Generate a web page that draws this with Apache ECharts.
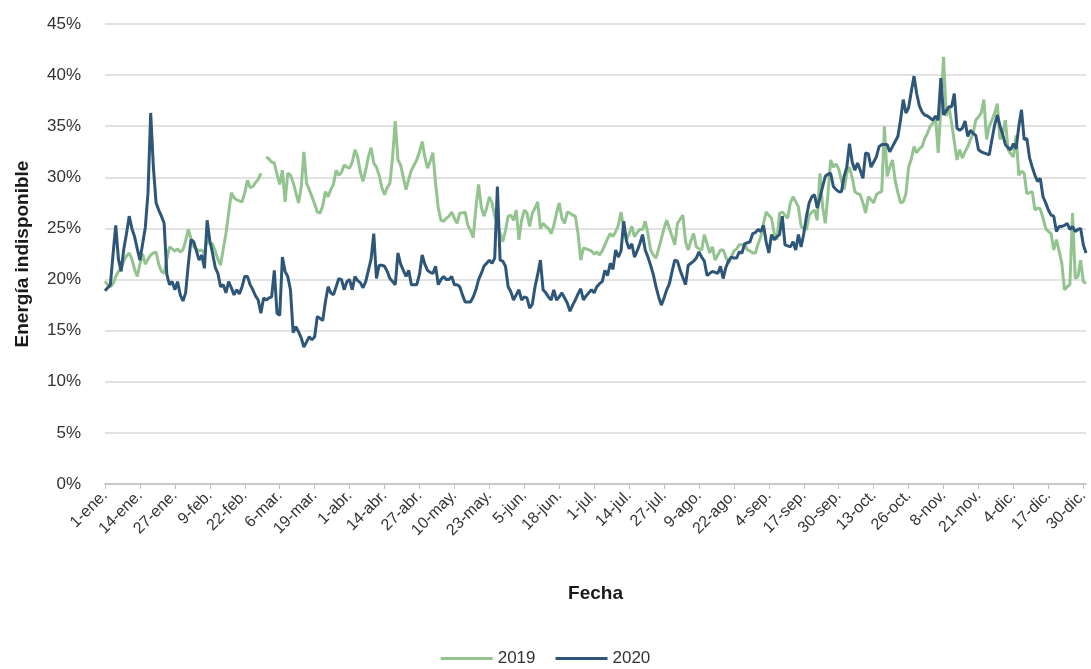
<!DOCTYPE html>
<html>
<head>
<meta charset="utf-8">
<script src="https://cdn.jsdelivr.net/npm/echarts@6/dist/echarts.min.js"></script>
<style>
  html, body { margin: 0; padding: 0; background: #fff; }
  #chart { width: 1091px; height: 669px; }
</style>
</head>
<body>
<div id="chart"></div>
<script>
// eje de fechas (año bisiesto 2020)
const meses = ['ene.', 'feb.', 'mar.', 'abr.', 'may.', 'jun.', 'jul.', 'ago.', 'sep.', 'oct.', 'nov.', 'dic.']
const diasMes = [31, 29, 31, 30, 31, 30, 31, 31, 30, 31, 30, 31]
const fechas = []
meses.forEach((m, i) => {
  for (let d = 1; d <= diasMes[i]; d++) fechas.push(d + '-' + m)
})

// 2019 (sin 29-feb)
const serie2019 = [
  19.8, 19.5, 19.3, 19.6, 20.3, 20.8, 21.1, 21.8, 22.3, 22.6,
  22.0, 21.0, 20.3, 21.5, 22.5, 21.5, 22.0, 22.4, 22.6, 22.7,
  21.5, 20.8, 20.6, 22.0, 23.2, 23.0, 22.8, 23.0, 22.7, 22.9,
  23.8, 24.9, 24.0, 23.2, 23.0, 22.8, 22.9, 22.5, 24.0, 23.5,
  23.5, 22.8, 22.0, 21.4, 23.0, 24.5, 26.5, 28.5, 28.0, 27.8,
  27.7, 27.6, 28.5, 29.7, 29.0, 29.1, 29.5, 29.8, 30.4, null,
  32.0, 31.8, 31.5, 31.4, 30.3, 29.3, 30.7, 27.6, 30.4, 30.2,
  29.5, 28.5, 27.5, 29.0, 32.5, 29.4, 28.8, 28.1, 27.4, 26.6,
  26.5, 27.2, 28.6, 28.1, 28.8, 29.3, 30.7, 30.2, 30.5, 31.2,
  31.0, 30.9, 31.5, 32.7, 32.0, 30.5, 29.6, 30.7, 32.0, 32.9,
  31.4, 31.0, 30.2, 29.0, 28.3, 29.0, 29.4, 32.0, 35.5, 31.7,
  31.2, 30.0, 28.8, 29.8, 30.7, 31.2, 31.7, 32.5, 33.5, 32.0,
  30.9, 31.6, 32.4, 29.4, 27.0, 25.8, 25.7, 26.0, 26.2, 26.6,
  26.0, 25.5, 26.5, 26.5, 26.6, 25.3, 24.8, 24.1, 27.0, 29.3,
  27.1, 26.2, 27.0, 28.1, 27.5, 26.2, 25.5, 24.5, 23.7, 24.8,
  26.2, 26.3, 25.8, 26.8, 23.9, 25.8, 26.8, 26.5, 25.2, 26.5,
  27.0, 27.6, 25.0, 25.5, 25.2, 25.0, 24.5, 25.3, 26.5, 27.5,
  26.0, 25.5, 26.6, 26.5, 26.3, 26.2, 24.5, 21.9, 23.1, 23.0,
  22.9, 22.8, 22.5, 22.7, 22.4, 22.8, 23.4, 24.0, 24.5, 24.2,
  24.7, 25.3, 26.6, 25.0, 23.9, 24.5, 25.2, 24.2, 24.6, 24.9,
  24.9, 25.7, 24.5, 22.9, 22.4, 22.1, 23.0, 24.0, 25.0, 25.8,
  25.0, 24.2, 23.4, 25.5, 25.9, 26.3, 23.7, 22.9, 23.8, 24.5,
  23.2, 23.0, 22.9, 24.4, 23.5, 22.6, 23.2, 21.9, 22.4, 22.9,
  22.9, 22.2, 21.6, 22.2, 22.8, 23.0, 23.4, 23.4, 23.5, 22.9,
  22.8, 22.6, 22.6, 23.5, 24.2, 25.5, 26.6, 26.3, 26.0, 24.5,
  23.9, 26.5, 26.6, 26.3, 26.0, 27.5, 28.1, 27.6, 27.1, 25.2,
  25.0, 24.9, 26.3, 26.6, 26.8, 25.8, 30.4, 27.1, 25.5, 28.4,
  31.7, 31.0, 31.3, 30.8, 29.7, 28.8, 30.4, 31.0, 30.0, 28.6,
  28.4, 28.3, 27.5, 26.5, 28.1, 27.8, 27.5, 28.3, 28.5, 28.6,
  35.0, 30.1, 31.0, 31.7, 29.7, 28.5, 27.5, 27.6, 28.4, 31.0,
  31.8, 33.0, 32.4, 32.8, 33.0, 33.8, 34.3, 35.0, 35.3, 36.0,
  32.4, 36.9, 41.8, 36.0, 36.9, 35.3, 33.5, 31.7, 32.7, 31.9,
  32.5, 33.0, 33.7, 34.3, 35.6, 35.9, 36.3, 37.6, 33.7, 35.0,
  35.6, 36.3, 37.2, 33.7, 34.3, 35.6, 32.7, 32.3, 32.0, 34.1,
  30.2, 30.6, 30.4, 28.4, 28.5, 28.6, 26.8, 27.0, 26.9, 26.0,
  25.0, 24.7, 24.5, 22.9, 23.9, 22.8, 21.6, 19.0, 19.3, 19.5,
  26.5, 20.1, 20.3, 21.9, 19.8, 19.6
]

const serie2020 = [
  18.9, 19.2, 19.5, 22.5, 25.3, 22.0, 20.8, 23.0, 24.5, 26.2,
  25.0, 24.2, 23.0, 21.9, 23.5, 25.1, 28.5, 36.3, 31.0, 27.5,
  26.8, 26.2, 25.5, 20.5, 19.5, 19.8, 19.0, 19.8, 18.5, 17.9,
  18.7, 21.5, 23.9, 23.7, 22.8, 21.9, 22.4, 21.1, 25.8, 23.8,
  22.6, 21.2, 20.6, 19.3, 19.5, 18.7, 19.8, 19.2, 18.5, 19.0,
  18.6, 19.3, 20.3, 20.3, 19.5, 19.0, 18.4, 18.0, 16.7, 18.2,
  18.0, 18.2, 18.3, 20.9, 16.7, 16.5, 22.2, 20.8, 20.3, 19.0,
  14.8, 15.4, 14.9, 14.3, 13.4, 13.9, 14.4, 14.1, 14.4, 16.4,
  16.2, 16.0, 17.8, 19.3, 18.7, 18.5, 19.3, 20.1, 20.0, 19.0,
  19.8, 20.0, 19.0, 20.3, 19.9, 19.7, 19.2, 19.8, 20.9, 22.0,
  24.5, 20.1, 21.4, 21.4, 21.3, 20.8, 20.1, 19.8, 19.5, 22.6,
  21.5, 20.9, 20.3, 20.9, 19.5, 19.5, 19.5, 20.5, 22.4, 21.5,
  20.9, 20.7, 20.6, 21.3, 19.5, 20.0, 20.3, 20.0, 20.0, 20.3,
  19.5, 19.5, 19.3, 18.5, 17.8, 17.8, 17.8, 18.3, 19.0, 20.0,
  20.6, 21.3, 21.6, 21.9, 21.6, 22.1, 29.1, 21.9, 21.8, 21.3,
  19.3, 18.8, 18.0, 18.5, 19.0, 18.0, 18.3, 18.2, 17.2, 17.6,
  19.3, 20.5, 21.9, 19.0, 18.7, 18.3, 18.0, 19.0, 18.0, 18.3,
  18.7, 18.2, 17.7, 16.9, 17.5, 18.0, 18.6, 19.1, 18.0, 18.4,
  18.7, 19.0, 18.7, 19.3, 19.6, 19.8, 20.9, 20.4, 21.6, 21.0,
  22.9, 22.2, 22.8, 25.7, 23.8, 23.0, 23.5, 22.2, 22.8, 23.5,
  24.4, 22.9, 22.2, 21.4, 20.5, 19.3, 18.3, 17.5, 18.2, 19.0,
  19.6, 20.8, 21.9, 21.8, 20.9, 20.2, 19.5, 21.4, 21.6, 21.8,
  22.1, 22.7, 22.2, 21.8, 20.4, 20.6, 20.8, 20.7, 20.6, 21.3,
  20.1, 21.2, 21.8, 22.2, 22.1, 22.1, 22.7, 22.6, 23.5, 23.6,
  23.7, 24.5, 24.6, 24.9, 24.7, 25.3, 23.7, 22.6, 24.4, 23.9,
  24.2, 24.4, 26.2, 23.4, 23.3, 23.2, 23.7, 22.9, 24.4, 23.2,
  24.5, 26.2, 27.5, 28.1, 28.3, 27.0, 28.0, 29.1, 30.1, 30.3,
  30.4, 29.1, 28.8, 28.6, 28.6, 30.1, 31.0, 33.3, 31.5, 30.7,
  31.4, 30.7, 29.9, 32.4, 32.3, 31.0, 31.5, 32.0, 33.0, 33.2,
  33.2, 33.2, 32.5, 33.0, 33.5, 34.0, 35.6, 37.6, 36.3, 36.8,
  38.4, 39.9, 38.2, 37.0, 36.4, 36.1, 36.0, 35.8, 35.6, 36.0,
  35.6, 39.7, 36.1, 36.5, 36.9, 36.9, 38.2, 34.8, 34.6, 34.8,
  35.5, 34.0, 34.6, 34.3, 34.1, 32.7, 32.5, 32.4, 32.3, 32.2,
  33.7, 35.1, 36.1, 35.0, 34.2, 33.2, 32.9, 32.7, 33.3, 32.8,
  35.0, 36.6, 33.7, 33.8, 31.9, 31.0, 30.2, 29.6, 29.9, 28.1,
  27.5, 26.8, 26.3, 26.2, 24.7, 25.2, 25.2, 25.3, 25.5, 24.9,
  25.2, 24.7, 24.9, 25.0, 23.4, 22.6
]

const chart = echarts.init(document.getElementById('chart'))
const fuente = 'Liberation Sans, Arial, sans-serif'

chart.setOption({
  animation: false,
  textStyle: { fontFamily: fuente },
  grid: { left: 105, right: 5, top: 24, bottom: 185, outerBoundsMode: 'none' },
  legend: {
    top: 645,
    left: 'center',
    itemWidth: 52,
    itemHeight: 3,
    itemGap: 20,
    icon: 'rect',
    textStyle: { fontSize: 17, color: '#333333', fontFamily: fuente },
    data: ['2019', '2020']
  },
  xAxis: {
    type: 'category',
    data: fechas,
    boundaryGap: false,
    name: 'Fecha',
    nameLocation: 'middle',
    nameGap: 100,
    nameTextStyle: { fontSize: 19, fontWeight: 'bold', color: '#1a1a1a' },
    axisLine: { lineStyle: { color: '#bfbfbf', width: 1.5 } },
    axisTick: { show: true, interval: 12, length: 5, lineStyle: { color: '#bfbfbf' } },
    axisLabel: {
      interval: 12,
      rotate: 45,
      fontSize: 16,
      color: '#333333',
      margin: 9
    },
    splitLine: { show: false }
  },
  yAxis: {
    type: 'value',
    min: 0,
    max: 45,
    interval: 5,
    name: 'Energía indisponible',
    nameLocation: 'middle',
    nameGap: 73,
    nameTextStyle: { fontSize: 19, fontWeight: 'bold', color: '#1a1a1a' },
    axisLine: { show: false },
    axisTick: { show: false },
    axisLabel: { formatter: '{value}%', fontSize: 17, color: '#333333', margin: 24 },
    splitLine: { lineStyle: { color: '#d9d9d9', width: 1.5 } }
  },
  series: [
    {
      name: '2019',
      type: 'line',
      data: serie2019,
      showSymbol: false,
      connectNulls: false,
      lineStyle: { color: '#93c38f', width: 3 },
      itemStyle: { color: '#93c38f' }
    },
    {
      name: '2020',
      type: 'line',
      data: serie2020,
      showSymbol: false,
      lineStyle: { color: '#2e5679', width: 3 },
      itemStyle: { color: '#2e5679' }
    }
  ]
})
</script>
</body>
</html>
